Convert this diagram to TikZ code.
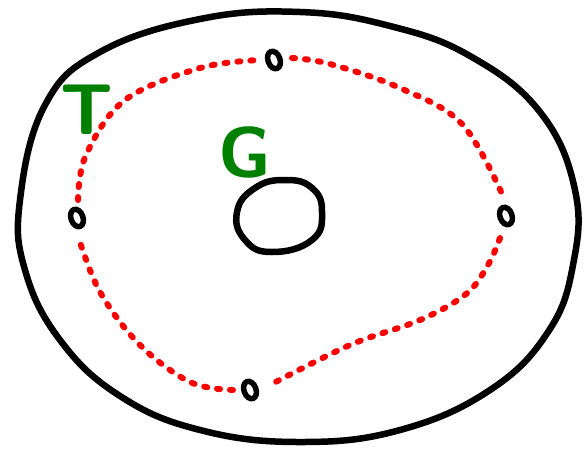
\documentclass[tikz,border=0pt]{standalone}
\usepackage{xcolor}
\usepackage{tikz}
\usetikzlibrary{positioning,shapes.geometric}

\begin{document}
\begin{tikzpicture}[x=1pt,y=-1pt,
  rim/.style={line width=6.5pt,line cap=round,line join=round},
  loopline/.style={red,line width=6pt,line cap=round,dash pattern=on 3pt off 10pt},
  puncture/.style={draw,line width=5.5pt,ellipse,minimum width=12pt,minimum height=18pt,inner sep=0pt,fill=white,rotate=20},
  lbl/.style={green!50!black,font=\sffamily\bfseries\fontsize{72}{72}\selectfont}]
  \useasboundingbox (0,0) rectangle (585,448);
  % outer boundary
  \draw[rim] plot[smooth cycle,tension=0.7] coordinates {(20,200) (45,105) (100,52) (200,19) (300,12) (390,26) (470,56) (540,112) (575,190) (573,265) (548,332) (490,390) (400,430) (300,442) (200,430) (120,396) (60,340) (25,270)};
  % hole
  \draw[rim] plot[smooth cycle,tension=0.8] coordinates {(285,180) (312,188) (322,212) (312,240) (272,252) (245,240) (237,212) (255,188)};
  % red loop
  \draw[loopline] plot[smooth,tension=0.6] coordinates {(78,200) (86,155) (125,100) (200,68) (260,60)};
  \draw[loopline] plot[smooth,tension=0.6] coordinates {(292,58) (330,64) (400,88) (462,124) (503,196)};
  \draw[loopline] plot[smooth,tension=0.6] coordinates {(500,238) (488,265) (466,294) (420,320) (350,345) (268,386)};
  \draw[loopline] plot[smooth,tension=0.6] coordinates {(233,390) (190,382) (140,345) (100,292) (78,236)};
  % punctures
  \node[puncture] (pt) at (274,60) {};
  \node[puncture] (pl) at (77,218) {};
  \node[puncture] (pr) at (506,216) {};
  \node[puncture] (pb) at (250,390) {};
  % labels
  \node[lbl] (tlabel) at (87,110) {T};
  \node[lbl] (glabel) at (245,152) {G};
\end{tikzpicture}
\end{document}
